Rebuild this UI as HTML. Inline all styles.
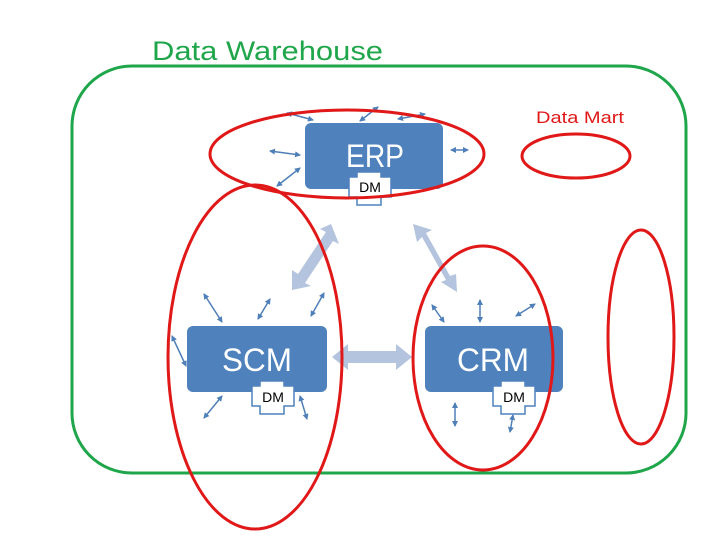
<!DOCTYPE html>
<html><head><meta charset="utf-8"><style>body{margin:0;background:#fff}svg{display:block}</style></head><body>
<svg width="720" height="540" viewBox="0 0 720 540" xmlns="http://www.w3.org/2000/svg">
<defs>
<marker id="a" markerWidth="6" markerHeight="6" refX="5" refY="3" orient="auto-start-reverse" markerUnits="userSpaceOnUse"><path d="M0,0 L6,3 L0,6 Z" fill="#4f7fb8"/></marker>
</defs>
<rect x="72" y="66" width="614" height="407" rx="60" fill="none" stroke="#1fa64a" stroke-width="3"/>
<text x="152" y="60" font-family="Liberation Sans, sans-serif" font-size="27" fill="#1fa64a" textLength="231" lengthAdjust="spacingAndGlyphs">Data Warehouse</text>
<text x="536" y="123" font-family="Liberation Sans, sans-serif" font-size="17" fill="#e01818" textLength="88" lengthAdjust="spacingAndGlyphs">Data Mart</text>

<g fill="#b4c4de">
<polygon points="331,224 339,244 333,241 305,283 311,286 292,290 292,270 298,274 326,232 320,229"/>
<polygon points="413,224 432,230 426,233 450,276 456,274 457,292 441,282 446,280 422,237 417,242"/>
<polygon points="332,357 348,344 348,351 396,351 396,344 412,357 396,370 396,363 348,363 348,370"/>
</g>

<g fill="#4f81bd">
<rect x="305" y="123" width="138" height="66" rx="6"/>
<rect x="187" y="326" width="140" height="66" rx="6"/>
<rect x="425" y="326" width="138" height="66" rx="6"/>
</g>
<g font-family="Liberation Sans, sans-serif" font-size="32" fill="#fff" text-anchor="middle">
<text x="375" y="167" textLength="58" lengthAdjust="spacingAndGlyphs">ERP</text>
<text x="257" y="371" textLength="70" lengthAdjust="spacingAndGlyphs">SCM</text>
<text x="493" y="371" textLength="72" lengthAdjust="spacingAndGlyphs">CRM</text>
</g>
<g fill="#fff" stroke="#4f81bd" stroke-width="1.5">
<path d="M357,172 H381 V177 H391 V197 H381 V205 H357 V197 H349 V177 H357 Z"/>
<path d="M260,381 H284 V386 H294 V406 H284 V414 H260 V406 H252 V386 H260 Z"/>
<path d="M501,381 H525 V386 H535 V406 H525 V414 H501 V406 H493 V386 H501 Z"/>
</g>
<g font-family="Liberation Sans, sans-serif" font-size="14" fill="#000" text-anchor="middle">
<text x="370" y="192">DM</text>
<text x="273" y="402">DM</text>
<text x="514" y="402">DM</text>
</g>

<g stroke="#4f7fb8" stroke-width="1.5" marker-start="url(#a)" marker-end="url(#a)">
<line x1="287" y1="113" x2="313" y2="120"/>
<line x1="360" y1="121" x2="378" y2="107"/>
<line x1="398" y1="119" x2="425" y2="114"/>
<line x1="270" y1="151" x2="300" y2="155"/>
<line x1="277" y1="186" x2="300" y2="168"/>
<line x1="451" y1="150" x2="468" y2="150"/>
<line x1="204" y1="294" x2="222" y2="322"/>
<line x1="258" y1="319" x2="270" y2="299"/>
<line x1="311" y1="316" x2="324" y2="293"/>
<line x1="172" y1="336" x2="186" y2="366"/>
<line x1="204" y1="418" x2="222" y2="396"/>
<line x1="300" y1="396" x2="307" y2="419"/>
<line x1="432" y1="305" x2="444" y2="322"/>
<line x1="480" y1="300" x2="480" y2="322"/>
<line x1="516" y1="316" x2="535" y2="304"/>
<line x1="455" y1="403" x2="455" y2="426"/>
<line x1="510" y1="432" x2="513" y2="415"/>
</g>

<g fill="none" stroke="#e01818" stroke-width="3">
<ellipse cx="347" cy="154" rx="137" ry="44"/>
<ellipse cx="576" cy="156" rx="54" ry="22"/>
<ellipse cx="255" cy="357" rx="87" ry="172"/>
<ellipse cx="483" cy="358" rx="70" ry="112"/>
<ellipse cx="641" cy="337" rx="33" ry="107"/>
</g>
</svg>
</body></html>
